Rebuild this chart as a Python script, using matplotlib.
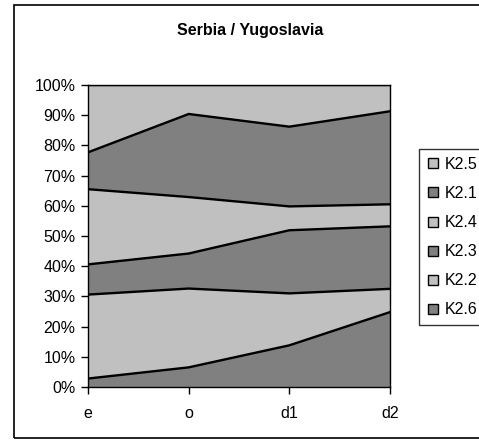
import matplotlib
matplotlib.use("Agg")
import matplotlib.pyplot as plt
from matplotlib.patches import Rectangle
from matplotlib.lines import Line2D
import numpy as np

plt.rcParams['font.family'] = ['Liberation Sans', 'DejaVu Sans']

categories = ["e", "o", "d1", "d2"]
series_names = ["K2.6", "K2.2", "K2.3", "K2.4", "K2.1", "K2.5"]
k26 = [2.8, 6.5, 13.8, 24.8]
k22 = [27.8, 26.1, 17.2, 7.7]
k23 = [10.0, 11.6, 20.9, 20.7]
k24 = [24.9, 18.7, 7.9, 7.3]
k21 = [12.2, 27.5, 26.4, 30.8]
k25 = [22.3, 9.6, 13.8, 8.7]
yticklabels = ["0%", "10%", "20%", "30%", "40%", "50%", "60%", "70%", "80%", "90%", "100%"]

dark = "#808080"
light = "#c0c0c0"
colors = [dark, light, dark, light, dark, light]

W, H = 479, 442
fig = plt.figure(figsize=(W / 100, H / 100), dpi=100)
fig.patch.set_facecolor("white")

ax = fig.add_axes([88 / W, (H - 387) / H, (390 - 88) / W, (387 - 85) / H])

data = np.array([k26, k22, k23, k24, k21, k25])
totals = data.sum(axis=0)
pct = data / totals * 100
x = np.arange(len(categories))
cum = np.zeros(len(categories))
for i, name in enumerate(series_names):
    top = cum + pct[i]
    ax.fill_between(x, cum, top, facecolor=colors[i], edgecolor="none", zorder=1)
    ax.plot(x, top, color="black", lw=1.7, zorder=2, solid_joinstyle="miter")
    cum = top

ax.set_xlim(0, 3)
ax.set_ylim(0, 100)
ax.set_yticks(np.arange(0, 101, 10))
ax.set_yticklabels(yticklabels, fontsize=11.5)
ax.set_xticks(x)
ax.set_xticklabels(categories, fontsize=11.5)
ax.tick_params(axis="y", direction="out", length=5, width=1, pad=4)
ax.tick_params(axis="x", direction="out", length=5, width=1, pad=9)
for s in ax.spines.values():
    s.set_color("black")
    s.set_linewidth(1)

fig.text(250 / W, 1 - 31 / H, "Serbia / Yugoslavia", ha="center", va="center",
         fontsize=11.5, fontweight="bold")

leg_handles = []
leg_labels = []
for i in reversed(range(len(series_names))):
    leg_handles.append(Line2D([], [], marker="s", linestyle="none", markersize=7,
                              markerfacecolor=colors[i], markeredgecolor="black",
                              markeredgewidth=1))
    leg_labels.append(series_names[i])
leg = fig.legend(leg_handles, leg_labels, loc="upper left",
                 bbox_to_anchor=(419 / W, 1 - 149 / H), fontsize=11.5,
                 frameon=True, fancybox=False, edgecolor="black",
                 handlelength=0.8, handletextpad=0.3, labelspacing=0.88,
                 borderpad=0.5, borderaxespad=0)
leg.get_frame().set_linewidth(1)

fig.patches.append(Rectangle((14 / W, 4 / H), (W + 10 - 14) / W, (H - 5 - 4) / H,
                             transform=fig.transFigure, fill=False,
                             edgecolor="black", lw=1.2))

fig.savefig("out.png", dpi=100)
